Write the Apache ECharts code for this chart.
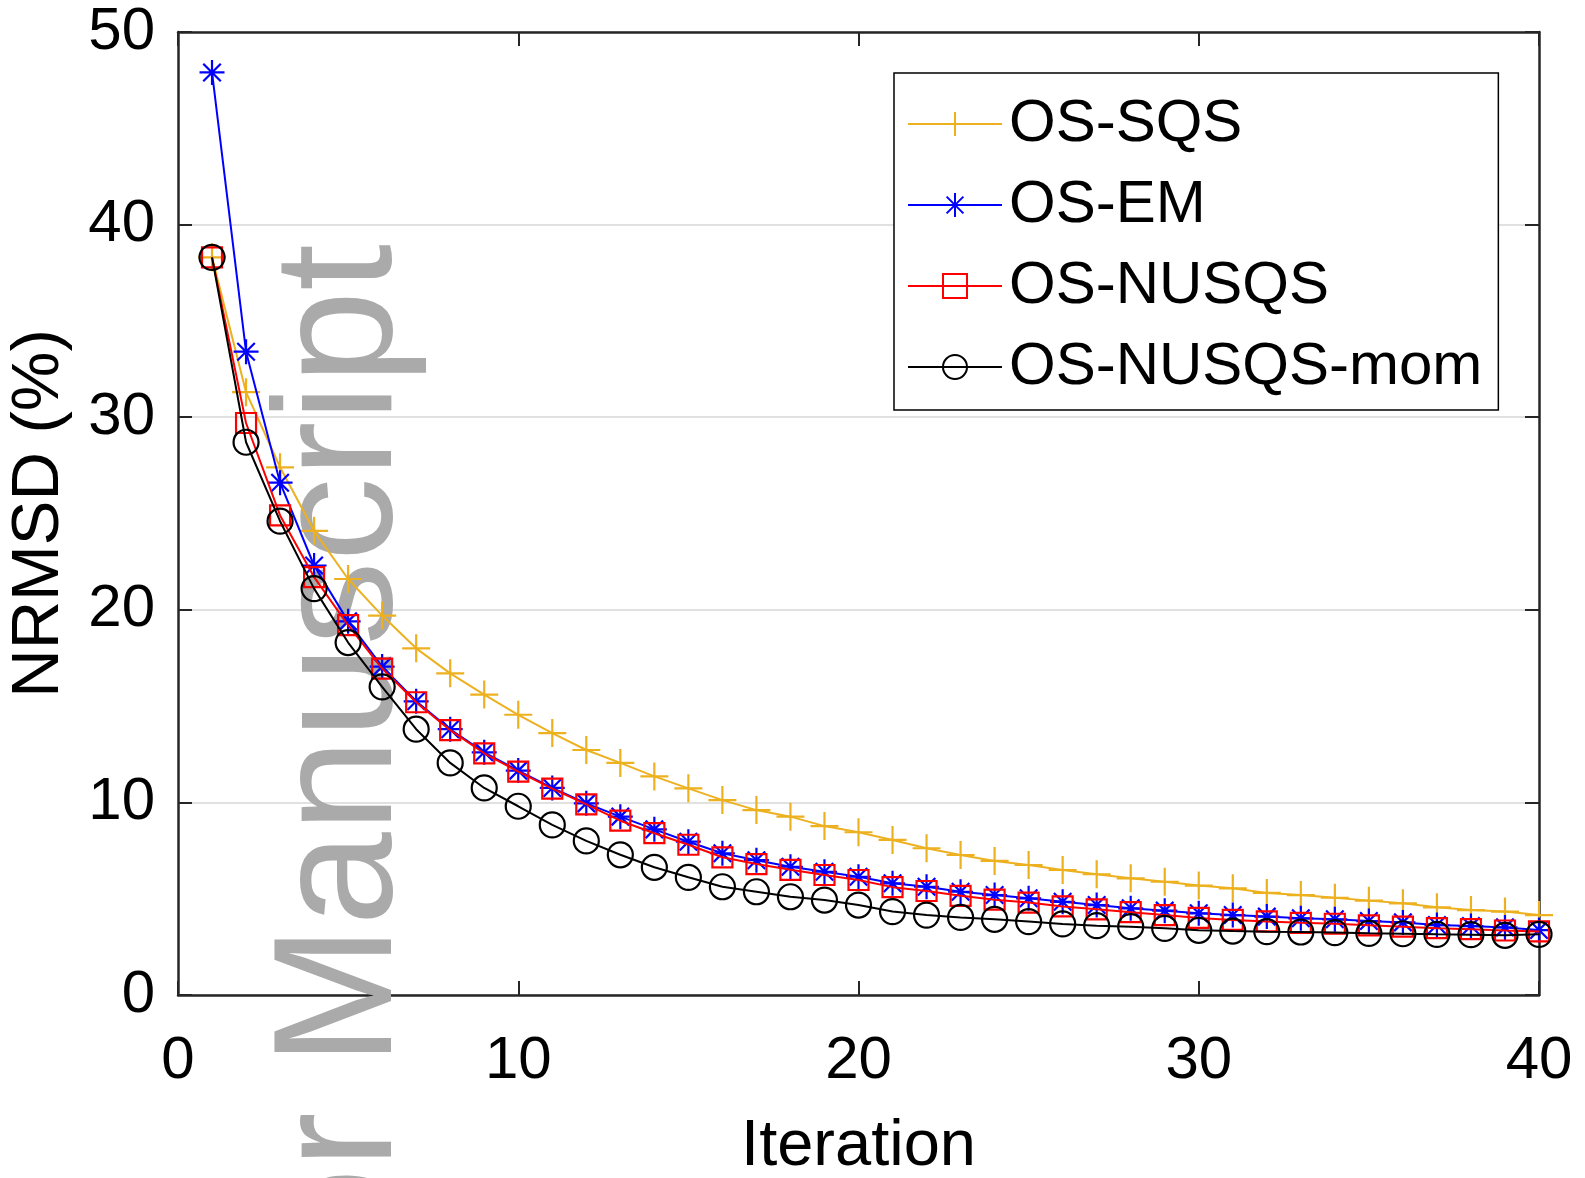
<!DOCTYPE html>
<html>
<head>
<meta charset="utf-8">
<script src="https://cdn.jsdelivr.net/npm/echarts@6/dist/echarts.min.js"></script>
<style>
html,body{margin:0;padding:0;background:#fff;}
#chart{width:1585px;height:1178px;}
</style>
</head>
<body>
<div id="chart"></div>
<script>
const iterations = Array.from({length: 40}, (_, k) => k + 1);
const seriesNames = ['OS-SQS', 'OS-EM', 'OS-NUSQS', 'OS-NUSQS-mom'];
const osSqs = [38.3, 31.3, 27.4, 24.1, 21.6, 19.7, 18.0, 16.7, 15.6, 14.55,
  13.6, 12.72, 12.05, 11.35, 10.73, 10.12, 9.6, 9.26, 8.77, 8.45,
  8.05, 7.62, 7.27, 6.96, 6.75, 6.49, 6.27, 6.06, 5.88, 5.68,
  5.54, 5.3, 5.19, 5.05, 4.9, 4.76, 4.55, 4.41, 4.33, 4.15];
const osEm = [47.9, 33.4, 26.6, 22.3, 19.4, 17.05, 15.25, 13.8, 12.6, 11.65,
  10.75, 9.95, 9.26, 8.6, 7.96, 7.36, 7.0, 6.66, 6.4, 6.14,
  5.8, 5.62, 5.36, 5.19, 5.02, 4.84, 4.67, 4.5, 4.38, 4.24,
  4.15, 4.07, 3.98, 3.93, 3.84, 3.77, 3.63, 3.58, 3.51, 3.37];
const osNusqs = [38.3, 29.7, 24.9, 21.7, 19.2, 16.95, 15.2, 13.75, 12.55, 11.6,
  10.72, 9.9, 9.05, 8.4, 7.8, 7.15, 6.8, 6.5, 6.23, 5.97,
  5.6, 5.4, 5.15, 4.95, 4.8, 4.6, 4.45, 4.3, 4.15, 4.0,
  3.9, 3.82, 3.75, 3.7, 3.62, 3.55, 3.47, 3.42, 3.35, 3.3];
const osNusqsMom = [38.3, 28.7, 24.6, 21.1, 18.3, 16.0, 13.8, 12.05, 10.75, 9.8,
  8.83, 8.0, 7.28, 6.63, 6.11, 5.62, 5.36, 5.1, 4.93, 4.67,
  4.33, 4.15, 4.03, 3.93, 3.81, 3.69, 3.6, 3.55, 3.46, 3.36,
  3.32, 3.29, 3.27, 3.24, 3.2, 3.18, 3.15, 3.13, 3.1, 3.15];
const xTicks = [0, 10, 20, 30, 40];
const yTicks = [0, 10, 20, 30, 40, 50];
const xName = 'Iteration';
const yName = 'NRMSD (%)';
const watermark = 'Author Manuscript';

const FONT = 'Liberation Sans, Arial, Helvetica, sans-serif';
const AX = '#262626';
const pair = (vals) => iterations.map((it, k) => [it, vals[k]]);

const chart = echarts.init(document.getElementById('chart'), null, {renderer: 'canvas'});

const axisCommon = {
  type: 'value',
  axisLine: {show: true, onZero: false, lineStyle: {color: AX, width: 2.5}},
  axisTick: {show: true, inside: true, length: 14, lineStyle: {color: AX, width: 2}},
  splitLine: {show: false},
  axisLabel: {show: false}
};

const xMin = xTicks[0], xMax = xTicks[xTicks.length - 1], xInt = xTicks[1] - xTicks[0];
const yMin = yTicks[0], yMax = yTicks[yTicks.length - 1], yInt = yTicks[1] - yTicks[0];

function mkSeries(name, data, color, symbol, size, z) {
  return {
    name: name, type: 'line', data: pair(data),
    xAxisIndex: 0, yAxisIndex: 0,
    symbol: symbol, symbolSize: size, showAllSymbol: true,
    lineStyle: {color: color, width: 2},
    itemStyle: {color: 'rgba(0,0,0,0)', borderColor: color, borderWidth: 2.2},
    emphasis: {disabled: true},
    z: z, animation: false
  };
}

const option = {
  backgroundColor: '#fff',
  animation: false,
  grid: {left: 178, top: 32, right: 46, bottom: 183, containLabel: false, outerBoundsMode: 'none'},
  graphic: [{
    type: 'text', x: 345, y: 244, rotation: Math.PI / 2, z: 1, silent: true,
    style: {text: watermark, fill: '#aaaaaa', font: '168px "Liberation Sans"', textAlign: 'right', textVerticalAlign: 'middle'}
  }],
  xAxis: [
    Object.assign({}, axisCommon, {
      position: 'bottom', min: xMin, max: xMax, interval: xInt,
      axisLabel: {show: true, margin: 36, fontSize: 60, color: '#000', fontFamily: FONT},
      name: xName, nameLocation: 'middle', nameGap: 120,
      nameTextStyle: {fontSize: 65, color: '#000', fontFamily: FONT}
    }),
    Object.assign({}, axisCommon, {position: 'top', min: xMin, max: xMax, interval: xInt})
  ],
  yAxis: [
    Object.assign({}, axisCommon, {
      position: 'left', min: yMin, max: yMax, interval: yInt,
      axisLabel: {show: true, margin: 23, fontSize: 60, color: '#000', fontFamily: FONT, padding: [6, 0, 0, 0]},
      splitLine: {show: true, lineStyle: {color: '#e1e1e1', width: 2}},
      name: yName, nameLocation: 'middle', nameGap: 105, nameRotate: 90,
      nameTextStyle: {fontSize: 67, color: '#000', fontFamily: FONT}
    }),
    Object.assign({}, axisCommon, {position: 'right', min: yMin, max: yMax, interval: yInt})
  ],
  legend: {
    show: true, orient: 'vertical', left: 894, top: 73,
    data: seriesNames,
    itemWidth: 94, itemHeight: 30, itemGap: 21,
    padding: [21, 16, 13, 13],
    borderColor: '#000', borderWidth: 1.5, backgroundColor: '#fff',
    selectedMode: false,
    textStyle: {fontSize: 60, lineHeight: 60, color: '#000', fontFamily: FONT, padding: [0, 0, 0, 2]}
  },
  series: [
    mkSeries(seriesNames[0], osSqs, '#EDB120', 'path://M0,-1L0,1M-1,0L1,0', 28, 3),
    mkSeries(seriesNames[1], osEm, '#0000FF', 'path://M0,-1L0,1M-1,0L1,0M-0.7,-0.7L0.7,0.7M-0.7,0.7L0.7,-0.7', 25, 4),
    mkSeries(seriesNames[2], osNusqs, '#FF0000', 'rect', 20, 5),
    mkSeries(seriesNames[3], osNusqsMom, '#000000', 'circle', 25, 6)
  ]
};
chart.setOption(option);
</script>
</body>
</html>
